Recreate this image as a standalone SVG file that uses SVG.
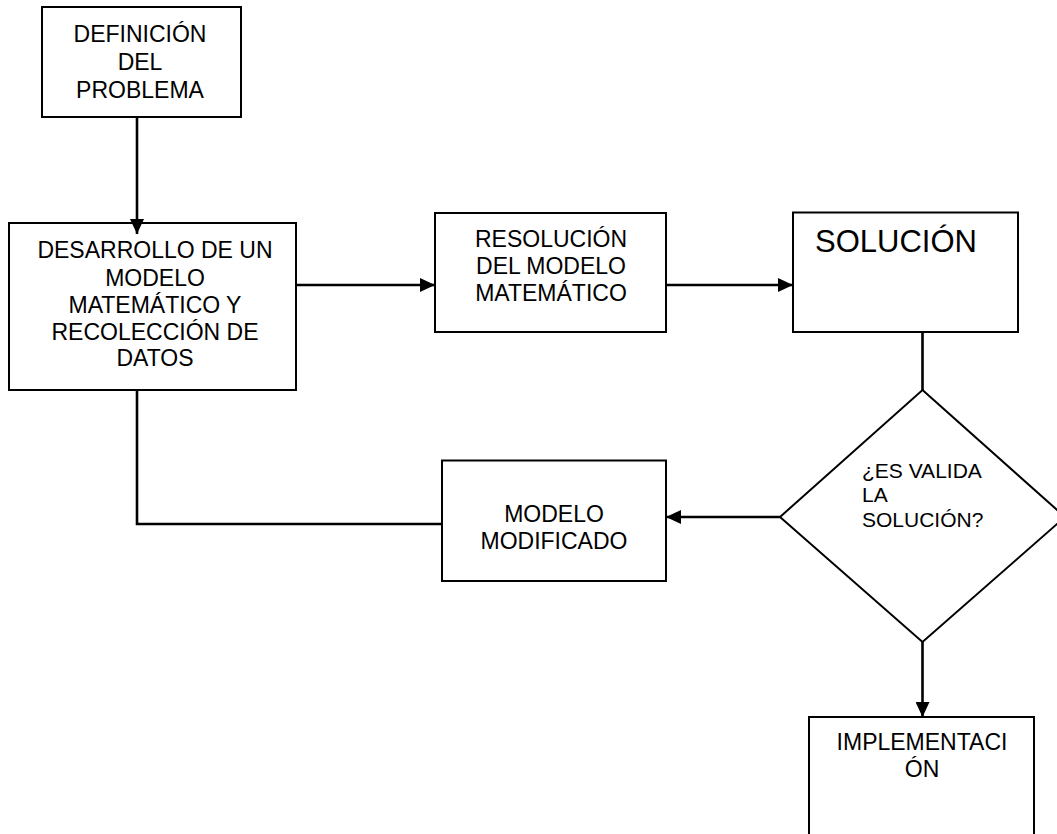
<svg xmlns="http://www.w3.org/2000/svg" width="1057" height="834" viewBox="0 0 1057 834">
<style>
.box{fill:#fff;stroke:#000;stroke-width:2}
.conn{fill:none;stroke:#000;stroke-width:2.6}
.t{font-family:"Liberation Sans",Arial,sans-serif;font-size:23px;fill:#000;text-anchor:middle}
.ts{font-family:"Liberation Sans",Arial,sans-serif;font-size:21px;fill:#000}
.tb{font-family:"Liberation Sans",Arial,sans-serif;font-size:31px;fill:#000}
</style>
<defs>
<marker id="arr" viewBox="0 0 15 14" refX="15" refY="7" markerWidth="15" markerHeight="14" markerUnits="userSpaceOnUse" orient="auto">
<path d="M0,0 L15,7 L0,14 Z" fill="#000"/>
</marker>
</defs>
<rect width="1057" height="834" fill="#fff"/>
<g id="definicion">
<rect class="box" x="42" y="7" width="199" height="110"/>
<text class="t" x="140" y="42">DEFINICIÓN</text>
<text class="t" x="140" y="70">DEL</text>
<text class="t" x="140" y="97.5">PROBLEMA</text>
</g>
<g id="desarrollo">
<rect class="box" x="9" y="223" width="287" height="167"/>
<text class="t" x="155" y="258">DESARROLLO DE UN</text>
<text class="t" x="155" y="285.5">MODELO</text>
<text class="t" x="155" y="312.5">MATEMÁTICO Y</text>
<text class="t" x="155" y="339.5">RECOLECCIÓN DE</text>
<text class="t" x="155" y="366">DATOS</text>
</g>
<g id="resolucion">
<rect class="box" x="435" y="213" width="231" height="119"/>
<text class="t" x="551" y="246.7">RESOLUCIÓN</text>
<text class="t" x="551" y="274.3">DEL MODELO</text>
<text class="t" x="551" y="301">MATEMÁTICO</text>
</g>
<g id="solucion">
<rect class="box" x="793" y="212.5" width="225" height="119.5"/>
<text class="tb" x="815" y="251.5">SOLUCIÓN</text>
</g>
<g id="valida">
<polygon class="box" points="922.5,390 1065,517 922.5,642 780,517"/>
<text class="ts" x="862" y="478">¿ES VALIDA</text>
<text class="ts" x="862" y="502">LA</text>
<text class="ts" x="862" y="526.5">SOLUCIÓN?</text>
</g>
<g id="modificado">
<rect class="box" x="442" y="460.5" width="224" height="120.5"/>
<text class="t" x="554" y="521.7">MODELO</text>
<text class="t" x="554" y="549">MODIFICADO</text>
</g>
<g id="implementacion">
<rect class="box" x="809" y="717" width="225" height="140"/>
<text class="t" x="922" y="750">IMPLEMENTACI</text>
<text class="t" x="922" y="777">ÓN</text>
</g>
<g id="connectors">
<line class="conn" x1="137" y1="117" x2="137" y2="234" marker-end="url(#arr)"/>
<line class="conn" x1="296" y1="285" x2="435" y2="285" marker-end="url(#arr)"/>
<line class="conn" x1="666" y1="285" x2="793" y2="285" marker-end="url(#arr)"/>
<line class="conn" x1="922.5" y1="332" x2="922.5" y2="390"/>
<line class="conn" x1="780" y1="517" x2="666" y2="517" marker-end="url(#arr)"/>
<polyline class="conn" points="137,390 137,524 442,524"/>
<line class="conn" x1="922.5" y1="642" x2="922.5" y2="717" marker-end="url(#arr)"/>
</g>
</svg>
